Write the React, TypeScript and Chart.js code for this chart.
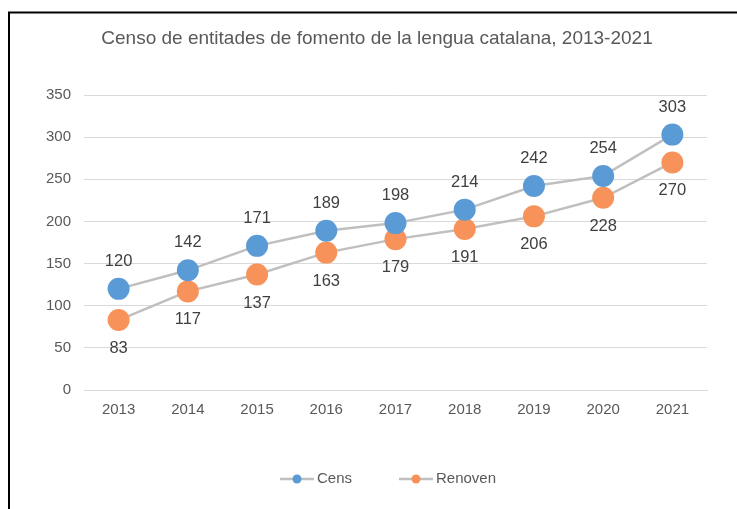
import React, { useEffect, useRef } from "react";
import { Chart, registerables } from "chart.js";

Chart.register(...registerables);

const TITLE = "Censo de entitades de fomento de la lengua catalana, 2013-2021";
const years = ["2013", "2014", "2015", "2016", "2017", "2018", "2019", "2020", "2021"];
const censValues = [120, 142, 171, 189, 198, 214, 242, 254, 303];
const renovenValues = [83, 117, 137, 163, 179, 191, 206, 228, 270];
const seriesNames = ["Cens", "Renoven"];

const BLUE = "#5B9BD5";
const ORANGE = "#F7925A";
const LINE = "#BFBFBF";
const TEXT = "#595959";
const LABEL = "#404040";
const FONT = "'Liberation Sans', Arial, sans-serif";

const framePlugin = {
  id: "frameAndText",
  beforeDraw(chart: any) {
    const ctx = chart.ctx;
    ctx.save();
    ctx.fillStyle = "#ffffff";
    ctx.fillRect(0, 0, chart.width, chart.height);
    ctx.strokeStyle = "#000000";
    ctx.lineWidth = 2;
    ctx.beginPath();
    ctx.moveTo(9, chart.height + 2);
    ctx.lineTo(9, 12.5);
    ctx.lineTo(chart.width + 2, 12.5);
    ctx.stroke();
    // title
    ctx.fillStyle = TEXT;
    ctx.font = `19px ${FONT}`;
    ctx.textAlign = "center";
    ctx.textBaseline = "middle";
    ctx.fillText(TITLE, 377, 39);
    ctx.restore();
  },
  afterDatasetsDraw(chart: any) {
    const ctx = chart.ctx;
    ctx.save();
    ctx.font = `16.5px ${FONT}`;
    ctx.fillStyle = LABEL;
    ctx.textAlign = "center";
    ctx.textBaseline = "middle";
    chart.data.datasets.forEach((ds: any, di: number) => {
      const meta = chart.getDatasetMeta(di);
      meta.data.forEach((pt: any, i: number) => {
        const dy = di === 0 ? -27.5 : 28.5;
        ctx.fillText(String(ds.data[i]), pt.x, pt.y + dy);
      });
    });
    // legend
    const legendY = 479;
    const items = [
      { x: 280, color: chart.data.datasets[0].pointBackgroundColor, text: chart.data.datasets[0].label },
      { x: 399, color: chart.data.datasets[1].pointBackgroundColor, text: chart.data.datasets[1].label },
    ];
    items.forEach((it) => {
      ctx.strokeStyle = LINE;
      ctx.lineWidth = 2.5;
      ctx.beginPath();
      ctx.moveTo(it.x, legendY);
      ctx.lineTo(it.x + 34, legendY);
      ctx.stroke();
      ctx.fillStyle = it.color;
      ctx.beginPath();
      ctx.arc(it.x + 17, legendY, 4.5, 0, Math.PI * 2);
      ctx.fill();
      ctx.fillStyle = TEXT;
      ctx.font = `15px ${FONT}`;
      ctx.textAlign = "left";
      ctx.fillText(it.text, it.x + 37, legendY);
    });
    ctx.restore();
  },
};

export default function App() {
  const ref = useRef<HTMLCanvasElement>(null);
  useEffect(() => {
    document.body.style.margin = "0";
    const canvas = ref.current!;
    const chart = new Chart(canvas, {
      type: "line",
      data: {
        labels: years,
        datasets: [
          {
            label: seriesNames[0],
            data: censValues,
            borderColor: LINE,
            borderWidth: 2.5,
            pointBackgroundColor: BLUE,
            pointBorderColor: BLUE,
            pointBorderWidth: 0,
            pointRadius: 11,
            pointHoverRadius: 11,
            tension: 0,
          },
          {
            label: seriesNames[1],
            data: renovenValues,
            borderColor: LINE,
            borderWidth: 2.5,
            pointBackgroundColor: ORANGE,
            pointBorderColor: ORANGE,
            pointBorderWidth: 0,
            pointRadius: 11,
            pointHoverRadius: 11,
            tension: 0,
          },
        ],
      },
      options: {
        responsive: false,
        animation: false,
        events: [],
        layout: { padding: { left: 9, right: 30, top: 95, bottom: 89 } },
        plugins: {
          legend: { display: false },
          title: { display: false },
          tooltip: { enabled: false },
        },
        scales: {
          x: {
            offset: true,
            grid: { display: false, drawTicks: false },
            border: { display: true, color: "#D9D9D9", width: 1 },
            ticks: { color: TEXT, font: { size: 15, family: FONT }, padding: 11, maxRotation: 0 },
            afterFit: (s: any) => {
              s.height = 30;
            },
          },
          y: {
            min: 0,
            max: 350,
            ticks: { stepSize: 50, color: TEXT, font: { size: 15, family: FONT }, padding: 13 },
            grid: { color: "#D9D9D9", lineWidth: 1, drawTicks: false },
            border: { display: false },
            afterFit: (s: any) => {
              s.width = 75;
            },
          },
        },
      },
      plugins: [framePlugin],
    });
    return () => chart.destroy();
  }, []);
  return <canvas ref={ref} width={737} height={509} style={{ display: "block" }} />;
}
